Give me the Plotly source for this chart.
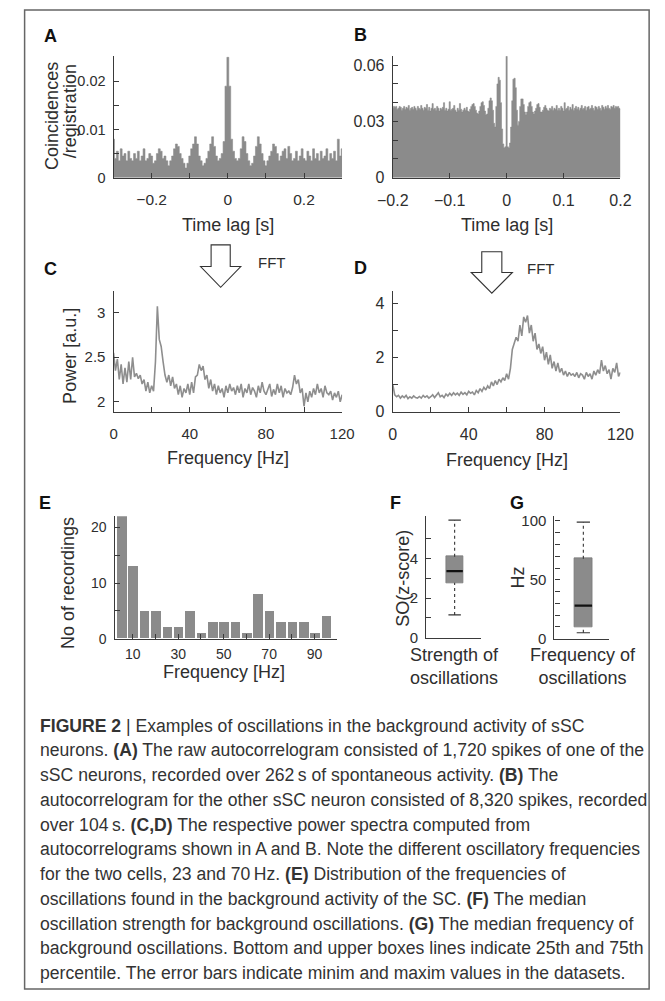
import numpy as np
import plotly.graph_objects as go

W, H = 665, 1001
FONT = "Liberation Sans, Arial, Helvetica, sans-serif"
TXT = "#2e2e2e"
GRAY = "#8b8b8b"

# ---------------- data ----------------
# (A) autocorrelogram, 5 ms bins from -0.300 s to 0.300 s
acg_a = [
    0.0080, 0.0040, 0.0055, 0.0035, 0.0060, 0.0045, 0.0050, 0.0035, 0.0055, 0.0040,
    0.0035, 0.0050, 0.0040, 0.0055, 0.0035, 0.0045, 0.0060, 0.0035, 0.0040, 0.0050,
    0.0045, 0.0030, 0.0035, 0.0050, 0.0060, 0.0055, 0.0040, 0.0045, 0.0035, 0.0025,
    0.0035, 0.0045, 0.0060, 0.0070, 0.0065, 0.0050, 0.0040, 0.0030, 0.0020, 0.0030,
    0.0045, 0.0060, 0.0070, 0.0085, 0.0070, 0.0045, 0.0035, 0.0025, 0.0030, 0.0040,
    0.0055, 0.0070, 0.0085, 0.0065, 0.0045, 0.0035, 0.0040, 0.0050, 0.0075, 0.0190,
    0.0250,
    0.0190, 0.0080, 0.0055, 0.0040, 0.0035, 0.0040, 0.0060, 0.0085, 0.0075, 0.0050,
    0.0035, 0.0025, 0.0030, 0.0045, 0.0065, 0.0085, 0.0070, 0.0050, 0.0035, 0.0025,
    0.0035, 0.0045, 0.0055, 0.0070, 0.0065, 0.0050, 0.0035, 0.0045, 0.0055, 0.0060,
    0.0040, 0.0065, 0.0050, 0.0035, 0.0040, 0.0055, 0.0035, 0.0045, 0.0060, 0.0040,
    0.0035, 0.0055, 0.0045, 0.0035, 0.0060, 0.0040, 0.0050, 0.0035, 0.0055, 0.0040,
    0.0045, 0.0060, 0.0035, 0.0050, 0.0040, 0.0055, 0.0035, 0.0080, 0.0045, 0.0060,
]
bin_a = 0.005

# (B) autocorrelogram, 2 ms bins from -0.200 s to 0.200 s
acg_b = [
    .0370, .0380, .0375, .0380, .0365, .0370, .0380, .0375, .0360, .0370,
    .0380, .0365, .0375, .0370, .0385, .0360, .0370, .0375, .0365, .0380,
    .0370, .0360, .0380, .0370, .0365, .0385, .0370, .0360, .0375, .0370,
    .0390, .0360, .0375, .0355, .0370, .0395, .0365, .0370, .0360, .0380,
    .0370, .0355, .0370, .0365, .0375, .0400, .0360, .0370, .0355, .0365,
    .0405, .0360, .0365, .0370, .0385, .0360, .0350, .0370, .0360, .0395,
    .0365, .0350, .0360, .0370, .0360, .0375,
    .0355, .0350, .0365, .0380, .0390, .0395, .0380, .0360, .0345, .0340,
    .0355, .0380, .0400, .0405, .0385, .0355, .0335, .0340, .0370, .0410,
    .0425, .0410, .0360, .0290, .0270, .0380, .0500, .0535, .0520, .0400,
    .0260, .0180, .0160, .0165,
    .0650,
    .0165, .0160, .0185, .0270, .0410, .0525, .0530, .0480, .0360, .0280,
    .0300, .0380, .0420, .0420, .0390, .0350, .0335, .0350, .0380, .0400,
    .0405, .0380, .0350, .0340, .0355, .0370, .0390, .0395, .0375, .0350,
    .0350, .0360, .0375, .0385, .0370,
    .0360, .0355, .0370, .0365, .0380, .0360, .0370, .0365, .0385, .0360,
    .0370, .0360, .0380, .0370, .0355, .0400, .0365, .0370, .0380, .0360,
    .0375, .0365, .0390, .0360, .0370, .0380, .0365, .0375, .0360, .0370,
    .0385, .0365, .0370, .0380, .0360, .0375, .0380, .0365, .0370, .0385,
    .0370, .0360, .0380, .0375, .0365, .0380, .0370, .0360, .0385, .0375,
    .0365, .0380, .0370, .0385, .0370, .0365, .0380, .0375, .0385, .0370,
    .0380, .0375, .0380, .0370, .0365,
]
bin_b = 0.002

# (C) power spectrum, 1 Hz steps 0..120 Hz
psd_c = [
    2.55, 2.35, 2.48, 2.25, 2.42, 2.20, 2.38, 2.22, 2.45, 2.25,
    2.50, 2.28, 2.32, 2.26, 2.30, 2.20, 2.25, 2.12, 2.22, 2.10,
    2.18, 2.12, 2.45, 3.07, 2.70, 2.62, 2.45, 2.30, 2.22, 2.30,
    2.18, 2.28, 2.15, 2.20, 2.08, 2.18, 2.05, 2.15, 2.10, 2.20,
    2.08, 2.22, 2.10, 2.28, 2.30, 2.42, 2.35, 2.40, 2.25, 2.30,
    2.15, 2.25, 2.12, 2.20, 2.08, 2.18, 2.10, 2.15, 2.05, 2.18,
    2.10, 2.20, 2.12, 2.16, 2.08, 2.18, 2.10, 2.20, 2.05, 2.15,
    2.10, 2.20, 2.08, 2.16, 2.12, 2.05, 2.18, 2.10, 2.22, 2.12,
    2.08, 2.15, 2.20, 2.06, 2.14, 2.08, 2.20, 2.10, 2.18, 2.05,
    2.15, 2.10, 2.12, 2.08, 2.16, 2.30, 2.20, 2.25, 2.10, 2.15,
    1.95, 2.10, 2.00, 2.12, 2.05, 2.15, 2.08, 2.20, 2.10, 2.15,
    2.05, 2.18, 2.10, 2.08, 2.12, 2.02, 2.10, 2.05, 2.12, 2.00,
    2.08,
]

# (D) power spectrum, 1 Hz steps 0..120 Hz
psd_d = [
    1.00, 0.62, 0.55, 0.60, 0.50, 0.58, 0.52, 0.60, 0.48, 0.55,
    0.50, 0.58, 0.52, 0.50, 0.56, 0.50, 0.60, 0.53, 0.58, 0.50,
    0.55, 0.62, 0.52, 0.60, 0.70, 0.55, 0.60, 0.52, 0.65, 0.58,
    0.68, 0.60, 0.70, 0.62, 0.68, 0.60, 0.72, 0.64, 0.70, 0.62,
    0.75, 0.68, 0.72, 0.62, 0.78, 0.70, 0.85, 0.75, 0.90, 0.80,
    0.95, 0.85, 1.10, 0.95, 1.15, 1.00, 1.20, 1.10, 1.25, 1.15,
    1.40, 1.20, 1.60, 2.30, 2.50, 2.75, 2.60, 3.20, 2.80, 3.50,
    3.30, 3.55, 2.90, 3.20, 2.60, 2.90, 2.30, 2.50, 2.15, 2.40,
    1.90, 2.20, 1.75, 2.10, 1.60, 1.85, 1.50, 1.80, 1.45, 1.60,
    1.35, 1.50, 1.30, 1.45, 1.35, 1.40, 1.30, 1.45, 1.25, 1.40,
    1.35, 1.20, 1.45, 1.30, 1.40, 1.20, 1.50, 1.35, 1.55, 1.40,
    1.90, 1.50, 1.70, 1.40, 1.55, 1.20, 1.60, 1.45, 1.80, 1.30,
    1.45,
]

# (E) histogram of oscillation frequencies
hist_e_centers = [5, 10, 15, 20, 25, 30, 35, 40, 45, 50, 55, 60, 65, 70, 75, 80, 85, 90, 95]
hist_e_counts = [22, 13, 5, 5, 2, 2, 5, 1, 3, 3, 3, 1, 8, 5, 3, 3, 3, 1, 4]

# (F) strength of oscillations: min, q1, median, q3, max
box_f = [1.15, 2.78, 3.37, 4.10, 5.95]
# (G) frequency of oscillations: min, q1, median, q3, max
box_g = [5, 10, 28, 68, 99]

caption_lines = [
    "<b>FIGURE 2</b> | Examples of oscillations in the background activity of sSC",
    "neurons. <b>(A)</b> The raw autocorrelogram consisted of 1,720 spikes of one of the",
    "sSC neurons, recorded over 262\u2009s of spontaneous activity. <b>(B)</b> The",
    "autocorrelogram for the other sSC neuron consisted of 8,320 spikes, recorded",
    "over 104\u2009s. <b>(C,D)</b> The respective power spectra computed from",
    "autocorrelograms shown in A and B. Note the different oscillatory frequencies",
    "for the two cells, 23 and 70\u2009Hz. <b>(E)</b> Distribution of the frequencies of",
    "oscillations found in the background activity of the SC. <b>(F)</b> The median",
    "oscillation strength for background oscillations. <b>(G)</b> The median frequency of",
    "background oscillations. Bottom and upper boxes lines indicate 25th and 75th",
    "percentile. The error bars indicate minim and maxim values in the datasets.",
]


# ---------------- helpers ----------------
def fx(px):
    return px / W


def fy(py):
    return 1 - py / H


def lag_grid(n, step):
    return (np.arange(n) - (n - 1) / 2) * step


fig = go.Figure()

# A
fig.add_trace(go.Scatter(x=lag_grid(len(acg_a), bin_a), y=acg_a, mode="lines",
                         line=dict(color=GRAY, width=0.6, shape="hvh"),
                         fill="tozeroy", fillcolor=GRAY, xaxis="x", yaxis="y"))
# B
fig.add_trace(go.Scatter(x=lag_grid(len(acg_b), bin_b), y=acg_b, mode="lines",
                         line=dict(color=GRAY, width=0.6, shape="hvh"),
                         fill="tozeroy", fillcolor=GRAY, xaxis="x2", yaxis="y2"))
# C
fig.add_trace(go.Scatter(x=np.arange(len(psd_c)), y=psd_c, mode="lines",
                         line=dict(color="#8e8e8e", width=1.6), xaxis="x3", yaxis="y3"))
# D
fig.add_trace(go.Scatter(x=np.arange(len(psd_d)), y=psd_d, mode="lines",
                         line=dict(color="#8e8e8e", width=1.6), xaxis="x4", yaxis="y4"))
# E
fig.add_trace(go.Bar(x=hist_e_centers, y=hist_e_counts, width=4.2,
                     marker=dict(color=GRAY, line=dict(width=0)), xaxis="x5", yaxis="y5"))


def add_box(stats, xa, ya, xc=0.52, bw=0.3):
    mn, q1, med, q3, mx = stats
    fig.add_trace(go.Scatter(x=[xc, xc, None, xc, xc], y=[mn, q1, None, q3, mx], mode="lines",
                             line=dict(color="#333", width=1.1, dash="dot"), xaxis=xa, yaxis=ya))
    fig.add_trace(go.Bar(x=[xc], y=[q3 - q1], base=[q1], width=bw,
                         marker=dict(color=GRAY, line=dict(color="#7a7a7a", width=0.8)),
                         xaxis=xa, yaxis=ya))
    fig.add_trace(go.Scatter(x=[xc - bw / 2, xc + bw / 2], y=[med, med], mode="lines",
                             line=dict(color="#111", width=2.2), xaxis=xa, yaxis=ya))
    cw = bw * 0.38
    fig.add_trace(go.Scatter(x=[xc - cw, xc + cw, None, xc - cw, xc + cw], y=[mn, mn, None, mx, mx],
                             mode="lines", line=dict(color="#333", width=1.2), xaxis=xa, yaxis=ya))


add_box(box_f, "x6", "y6", xc=0.52, bw=0.30)
add_box(box_g, "x7", "y7", xc=0.53, bw=0.32)

# ---------------- axes ----------------
base = dict(showline=True, linecolor="#3a3a3a", linewidth=1.2, ticks="inside", ticklen=5,
            tickcolor="#3a3a3a", tickwidth=1.2, showgrid=False, zeroline=False, fixedrange=True)


def minor(vals):
    return dict(tickvals=vals, ticks="inside", ticklen=5, tickcolor="#3a3a3a", tickwidth=1.2,
                showgrid=False)


def xax(x0, x1, anchor, rng, tickvals=None, mvals=None, show=True, standoff=8, fs=15):
    d = dict(base)
    d.update(domain=[fx(x0), fx(x1)], anchor=anchor, range=rng,
             tickfont=dict(family=FONT, size=fs, color=TXT))
    if tickvals is not None:
        d.update(tickmode="array", tickvals=tickvals)
    if mvals:
        d["minor"] = minor(mvals)
    if not show:
        d.update(ticks="", showticklabels=False)
    d["ticklabelstandoff"] = standoff
    return d


def yax(y_top, y_bot, anchor, rng, tickvals, mvals=None, standoff=4, fs=15):
    d = dict(base)
    d.update(domain=[fy(y_bot), fy(y_top)], anchor=anchor, range=rng,
             tickmode="array", tickvals=tickvals, ticklabelstandoff=standoff,
             tickfont=dict(family=FONT, size=fs, color=TXT))
    if mvals:
        d["minor"] = minor(mvals)
    return d


layout = dict(
    width=W, height=H, margin=dict(l=0, r=0, t=0, b=0),
    paper_bgcolor="white", plot_bgcolor="white", showlegend=False,
    bargap=0, font=dict(family=FONT, color=TXT),
    xaxis=xax(102, 341, "y", [-0.3, 0.3], [-0.2, 0, 0.2], [-0.3, -0.1, 0.1, 0.3], fs=15.5),
    yaxis=yax(53, 176, "x", [0, 0.0252], [0, 0.01, 0.02], [0.005, 0.015, 0.025], fs=14.5),
    xaxis2=xax(394, 632, "y2", [-0.2, 0.2], [-0.2, -0.1, 0, 0.1, 0.2], fs=16),
    yaxis2=yax(53, 176, "x2", [0, 0.0647], [0, 0.03, 0.06], [0.01, 0.02, 0.04, 0.05], fs=16),
    xaxis3=xax(102, 341, "y3", [0, 120], [0, 40, 80, 120], [20, 60, 100], fs=15),
    yaxis3=yax(291, 413, "x3", [1.89, 3.24], [2, 2.5, 3], fs=15),
    xaxis4=xax(394, 632, "y4", [0, 120], [0, 40, 80, 120], [20, 60, 100], fs=16),
    yaxis4=yax(291, 413, "x4", [0, 4.45], [0, 2, 4], [1, 3], fs=16),
    xaxis5=xax(103, 336, "y5", [2, 100], [10, 30, 50, 70, 90], [20, 40, 60, 80], standoff=2, fs=14),
    yaxis5=yax(519, 643, "x5", [0, 22], [0, 10, 20], [5, 15], fs=14),
    xaxis6=xax(429, 486, "y6", [0, 1], show=False),
    yaxis6=yax(519, 642, "x6", [0, 6.15], [0, 2, 4], [1, 3, 5], fs=15),
    xaxis7=xax(563, 620, "y7", [0, 1], show=False),
    yaxis7=yax(519, 643, "x7", [0, 104], [0, 50, 100], [10, 20, 30, 40, 60, 70, 80, 90], fs=15),
)
fig.update_layout(**layout)

# ---------------- annotations ----------------
ann = []


def text(px, py, s, size=17, xanchor="center", yanchor="middle", angle=0, bold=False, color=TXT):
    ann.append(dict(x=fx(px), y=fy(py), xref="paper", yref="paper", text=(f"<b>{s}</b>" if bold else s),
                    showarrow=False, xanchor=xanchor, yanchor=yanchor, textangle=angle,
                    font=dict(family=FONT, size=size, color=color)))


# panel letters
for lab, px, py in [("A", 27, 32), ("B", 351, 31), ("C", 27, 268), ("D", 351, 267),
                    ("E", 22, 506), ("F", 389, 506), ("G", 514, 506)]:
    text(px, py, lab, size=18, xanchor="left", bold=True, color="#111")

# axis titles
TS = 18
text(37, 113, "Coincidences", size=TS, angle=-90)
text(56, 109, "/registration", size=TS, angle=-90)
text(222, 224, "Time lag [s]", size=TS)
text(513, 224, "Time lag [s]", size=TS)
text(57, 357, "Power [a.u.]", size=TS, angle=-90)
text(222, 460, "Frequency [Hz]", size=TS)
text(513, 462, "Frequency [Hz]", size=TS)
text(55, 587, "No of recordings", size=TS, angle=-90)
text(218, 677, "Frequency [Hz]", size=TS)
text(405, 582, "SO(z-score)", size=TS, angle=-90)
text(458, 671, "Strength of<br>oscillations", size=TS)
text(525, 581, "Hz", size=TS, angle=-90)
text(593, 671, "Frequency of<br>oscillations", size=TS)

# FFT labels
text(251, 262, "FFT", size=15, xanchor="left")
text(532, 268, "FFT", size=15, xanchor="left")

# caption
for i, line in enumerate(caption_lines):
    text(23, 731 + 25.1 * i, line, size=17.6, xanchor="left", color="#333")

fig.update_layout(annotations=ann)


# ---------------- shapes ----------------
def block_arrow(cx, top, shoulder, tip, half_shaft, half_head):
    pts = [(cx - half_shaft, top), (cx + half_shaft, top), (cx + half_shaft, shoulder),
           (cx + half_head, shoulder), (cx, tip), (cx - half_head, shoulder),
           (cx - half_shaft, shoulder)]
    path = "M " + " L ".join(f"{fx(x):.5f},{fy(y):.5f}" for x, y in pts) + " Z"
    return dict(type="path", path=path, xref="paper", yref="paper",
                line=dict(color="#333", width=1.1), fillcolor="white")


shapes = [
    dict(type="rect", xref="paper", yref="paper", x0=fx(9), x1=fx(662), y0=fy(998), y1=fy(6),
         line=dict(color="#666", width=1.5), fillcolor="rgba(0,0,0,0)"),
    block_arrow(214, 244, 266, 287, 10, 21),
    block_arrow(497.5, 251, 272, 293, 10.5, 21.5),
]
fig.update_layout(shapes=shapes)

fig.write_html("out.html",
               post_script="document.body.style.margin='0';document.body.style.overflow='hidden';")
